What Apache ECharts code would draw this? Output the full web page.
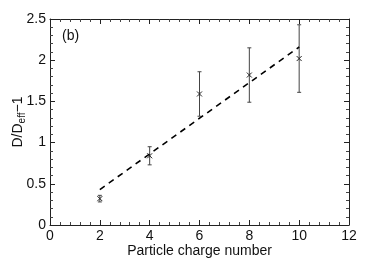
<!DOCTYPE html>
<html><head><meta charset="utf-8">
<script src="https://cdn.jsdelivr.net/npm/echarts@6/dist/echarts.min.js"></script>
<style>html,body{margin:0;padding:0;background:#fff}#c{width:385px;height:258px}</style>
</head><body><div id="c"></div>
<script>
var chargeNumbers = [2, 4, 6, 8, 10];
var ratioValues = [0.32, 0.84, 1.59, 1.82, 2.02];
var ratioErrors = [0.04, 0.11, 0.27, 0.33, 0.41];
var fitX = [2, 10];
var fitY = [0.43, 2.16];
var xTicks = [0, 2, 4, 6, 8, 10, 12];
var yTicks = [0, 0.5, 1, 1.5, 2, 2.5];

var chart = echarts.init(document.getElementById('c'));
var font = 'Liberation Sans, Arial, sans-serif';
var axisCommon = function (show) {
  return {
    axisLine: {show: true, onZero: false, lineStyle: {color: '#222', width: 1}},
    axisTick: {show: true, inside: true, length: 5, lineStyle: {color: '#222'}},
    minorTick: {show: true, splitNumber: 5, length: 3, lineStyle: {color: '#444'}},
    splitLine: {show: false},
    axisLabel: {show: show, color: '#111', fontFamily: font, fontSize: 14}
  };
};
var errData = chargeNumbers.map(function (x, i) { return [x, ratioValues[i], ratioErrors[i]]; });
var fitData = fitX.map(function (x, i) { return [x, fitY[i]]; });

chart.setOption({
  animation: false,
  grid: {left: 50, right: 36, top: 19, bottom: 33, outerBoundsMode: 'none', containLabel: false},
  xAxis: [
    Object.assign({type: 'value', min: xTicks[0], max: xTicks[xTicks.length - 1], interval: 2, position: 'bottom',
      name: 'Particle charge number', nameLocation: 'middle', nameGap: 19, nameMoveOverlap: false,
      nameTextStyle: {fontFamily: font, fontSize: 14, color: '#111'}}, axisCommon(true),
      {axisLabel: {show: true, color: '#111', fontFamily: font, fontSize: 14, margin: 4}}),
    Object.assign({type: 'value', min: 0, max: 12, interval: 2, position: 'top'}, axisCommon(false))
  ],
  yAxis: [
    Object.assign({type: 'value', min: yTicks[0], max: yTicks[yTicks.length - 1], interval: 0.5, position: 'left',
      name: 'D/D{sub|eff}−1', nameLocation: 'middle', nameGap: 23, nameRotate: 90, nameMoveOverlap: false,
      nameTextStyle: {fontFamily: font, fontSize: 14, color: '#111',
        rich: {sub: {fontFamily: font, fontSize: 10, color: '#111', verticalAlign: 'bottom', padding: [7, 0, 0, 0]}}}},
      axisCommon(true),
      {axisLabel: {show: true, color: '#111', fontFamily: font, fontSize: 14, margin: 4}}),
    Object.assign({type: 'value', min: 0, max: 2.5, interval: 0.5, position: 'right'}, axisCommon(false))
  ],
  series: [
    {
      type: 'line', data: fitData, symbol: 'none', xAxisIndex: 0, yAxisIndex: 0,
      lineStyle: {color: '#000', width: 1.6, type: [6, 5]}
    },
    {
      type: 'custom', xAxisIndex: 0, yAxisIndex: 0, data: errData,
      renderItem: function (params, api) {
        var x = api.value(0), y = api.value(1), e = api.value(2);
        var p = api.coord([x, y]);
        var hi = api.coord([x, y + e]);
        var lo = api.coord([x, y - e]);
        var c = 2, m = 2.5;
        var st = {stroke: '#444', lineWidth: 1};
        return {
          type: 'group',
          children: [
            {type: 'line', shape: {x1: p[0], y1: hi[1], x2: p[0], y2: lo[1]}, style: st},
            {type: 'line', shape: {x1: p[0] - c, y1: hi[1], x2: p[0] + c, y2: hi[1]}, style: st},
            {type: 'line', shape: {x1: p[0] - c, y1: lo[1], x2: p[0] + c, y2: lo[1]}, style: st},
            {type: 'line', shape: {x1: p[0] - m, y1: p[1] - m, x2: p[0] + m, y2: p[1] + m}, style: {stroke: '#222', lineWidth: 1}},
            {type: 'line', shape: {x1: p[0] - m, y1: p[1] + m, x2: p[0] + m, y2: p[1] - m}, style: {stroke: '#222', lineWidth: 1}}
          ]
        };
      }
    }
  ],
  graphic: [
    {type: 'text', left: 62, top: 29, style: {text: '(b)', fontFamily: font, fontSize: 14, fill: '#111'}}
  ]
});
</script></body></html>
